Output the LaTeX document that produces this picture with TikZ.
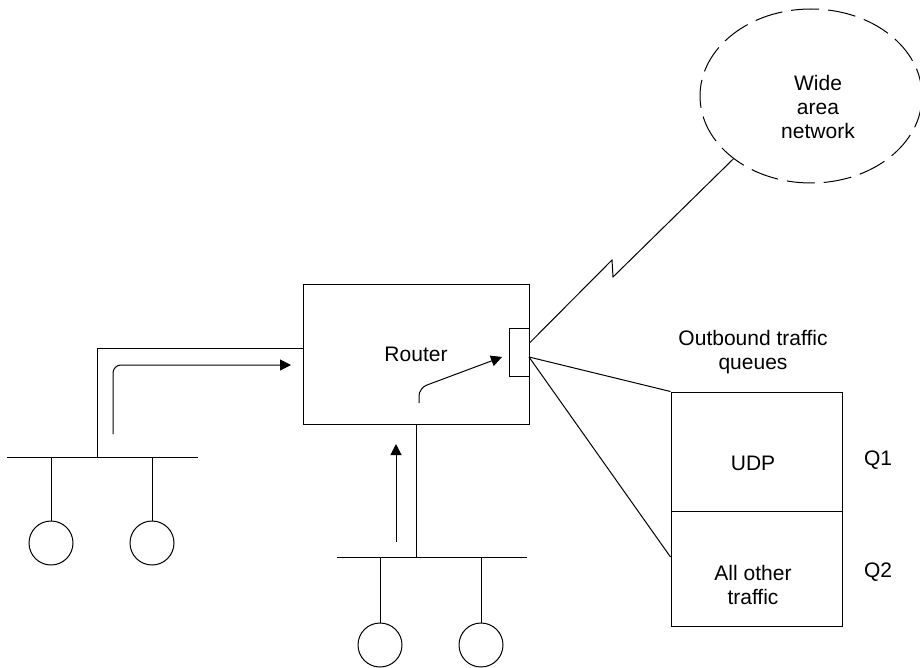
\documentclass[tikz,border=0pt]{standalone}
\usepackage{fontspec}
\setmainfont{Liberation Sans}
\usetikzlibrary{arrows.meta,shapes.geometric}
\begin{document}
\begin{tikzpicture}[x=1pt,y=-1pt,line width=1pt,
  font=\fontsize{21}{24}\selectfont,
  box/.style={draw, rectangle, inner sep=0pt},
  host/.style={draw, circle, minimum size=44pt, inner sep=0pt},
  flow/.style={-{Triangle[length=11pt,width=11pt]}}]
\useasboundingbox (0,0) rectangle (920,668);
% router and its output port
\node[box, minimum width=226pt, minimum height=140pt] (router) at (416,354) {Router};
\node[box, minimum width=20pt, minimum height=48pt] (port) at (519,352) {};
% wide area network
\node[draw, ellipse, dash pattern=on 28pt off 9pt, minimum width=222pt, minimum height=174pt] (wan) at (811,96) {};
\node[align=center] (wanlbl) at (818,107) {Wide\\area\\network};
% outbound queues
\node[box, minimum width=171pt, minimum height=119pt] (q1) at (756.5,451.5) {};
\node[box, minimum width=171pt, minimum height=115pt] (q2) at (756.5,568.5) {};
\node (udp) at (753,463) {UDP};
\node[align=center] (other) at (753,585) {All other\\traffic};
\node (q1lbl) at (878,460) {Q1};
\node (q2lbl) at (878,572) {Q2};
\node[align=center] (qlbl) at (753,352) {Outbound traffic\\queues};
% left LAN
\coordinate (busA1) at (7,457);
\coordinate (busA2) at (198,457);
\node[host] (h1) at (51,543) {};
\node[host] (h2) at (152,543) {};
% bottom LAN
\coordinate (busB1) at (337,557);
\coordinate (busB2) at (527,557);
\node[host] (h3) at (380,645) {};
\node[host] (h4) at (481,645) {};
\draw (busA1) -- (busA2);
\draw (h1) -- (h1 |- busA1);
\draw (h2) -- (h2 |- busA1);
\draw (busA1 -| 97,0) |- (router.west |- 0,348);
\draw (busB1) -- (busB2);
\draw (h3) -- (h3 |- busB1);
\draw (h4) -- (h4 |- busB1);
\draw (busB1 -| router.south) -- (router.south);
% links from the port
\coordinate (tap) at (529,357);
\draw (port.east |- 0,343) -- (612,260) -- (613,277) -- (wan.219);
\draw (tap) -- (q1.north west);
\draw (tap) -- (q2.west |- 0,557);
% traffic flow
\draw[flow, rounded corners=8pt] (113,434) |- (291,365);
\draw[flow] (396,542) -- (396,444);
\draw[flow, rounded corners=8pt] (419,403) -- (419,388) -- (502,357);
\end{tikzpicture}
\end{document}
